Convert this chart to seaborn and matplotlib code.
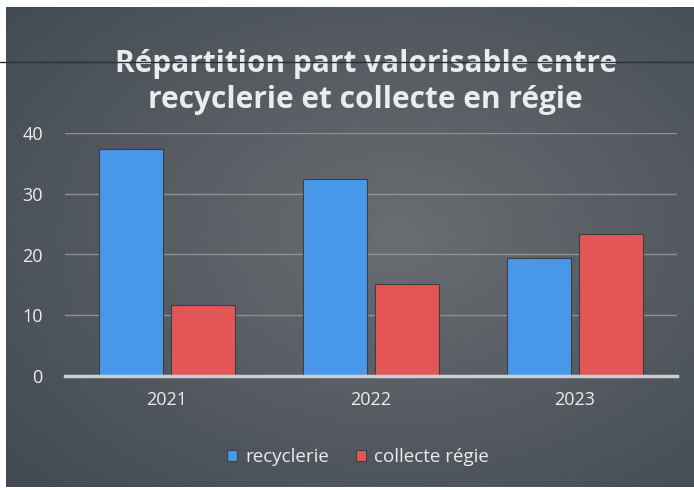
import numpy as np
import pandas as pd
import matplotlib
matplotlib.use("Agg")
import matplotlib.pyplot as plt
import seaborn as sns

years = ["2021", "2022", "2023"]
recyclerie = [37.3, 32.4, 19.4]
collecte_regie = [11.7, 15.2, 23.3]
series_names = ["recyclerie", "collecte régie"]
title = "Répartition part valorisable entre\nrecyclerie et collecte en régie"

df = pd.DataFrame({
    "annee": years * 2,
    "serie": [series_names[0]] * 3 + [series_names[1]] * 3,
    "valeur": recyclerie + collecte_regie,
})

sns.set_theme(style="white")
plt.rcParams["font.family"] = ["Open Sans", "DejaVu Sans"]
txt = "#ececec"

fig = plt.figure(figsize=(6.94, 4.9), dpi=100)
fig.patch.set_facecolor("white")

# background panel with radial gradient
bg = fig.add_axes([6 / 694, 3 / 490, 1 - 6 / 694, 480 / 490], zorder=-5)
yy, xx = np.mgrid[0:200, 0:300]
cx, cy = 170, 95
d = np.sqrt(((xx - cx) / 300) ** 2 + ((yy - cy) / 200) ** 2)
d = np.clip(d / 0.75, 0, 1)
c_in = np.array([0x6a, 0x6d, 0x71]) / 255
c_out = np.array([0x43, 0x4a, 0x53]) / 255
img = c_in[None, None, :] * (1 - d[..., None]) + c_out[None, None, :] * d[..., None]
bg.imshow(img, aspect="auto", extent=[0, 1, 0, 1], interpolation="bilinear")
bg.set_axis_off()

ax = fig.add_axes([65 / 694, 1 - 376 / 490, 612 / 694, 243 / 490])
ax.set_facecolor("none")
sns.barplot(data=df, x="annee", y="valeur", hue="serie", hue_order=series_names,
            palette=["#4898ea", "#e25656"], width=0.7, gap=0.1,
            saturation=1, ax=ax, legend=True, zorder=3,
            edgecolor="#3a3f46", linewidth=0.8)

ax.set_ylim(0, 40)
ax.set_yticks([0, 10, 20, 30, 40])
ax.yaxis.grid(True, color="#8e9194", linewidth=1.0, zorder=0)
ax.set_axisbelow(True)
for s in ["top", "right", "left"]:
    ax.spines[s].set_visible(False)
ax.spines["bottom"].set_color("#c9ced3")
ax.spines["bottom"].set_linewidth(2.5)
ax.spines["bottom"].set_zorder(4)
ax.tick_params(axis="y", colors=txt, labelsize=13, length=0, pad=16)
ax.tick_params(axis="x", colors=txt, labelsize=13, length=0, pad=11)
ax.set_xlabel("")
ax.set_ylabel("")

handles, labels = ax.get_legend_handles_labels()
ax.legend_.remove()
fig.legend(handles, labels, loc="center", bbox_to_anchor=(0.516, 1 - 457 / 490),
           ncol=2, frameon=False, fontsize=13.5, labelcolor=txt,
           handlelength=0.55, handleheight=0.55, handletextpad=0.45, columnspacing=1.4)

fig.text(0.527, 1 - 82 / 490, title, ha="center", va="center", fontsize=21.5,
         fontweight="bold", color=txt, linespacing=1.3)

# horizontal line crossing the scanned page
fig.add_artist(plt.Line2D([0, 1], [1 - 62 / 490, 1 - 62 / 490], color="#2a3038",
                          linewidth=1.0, zorder=10))

fig.savefig("out.png", dpi=100)
